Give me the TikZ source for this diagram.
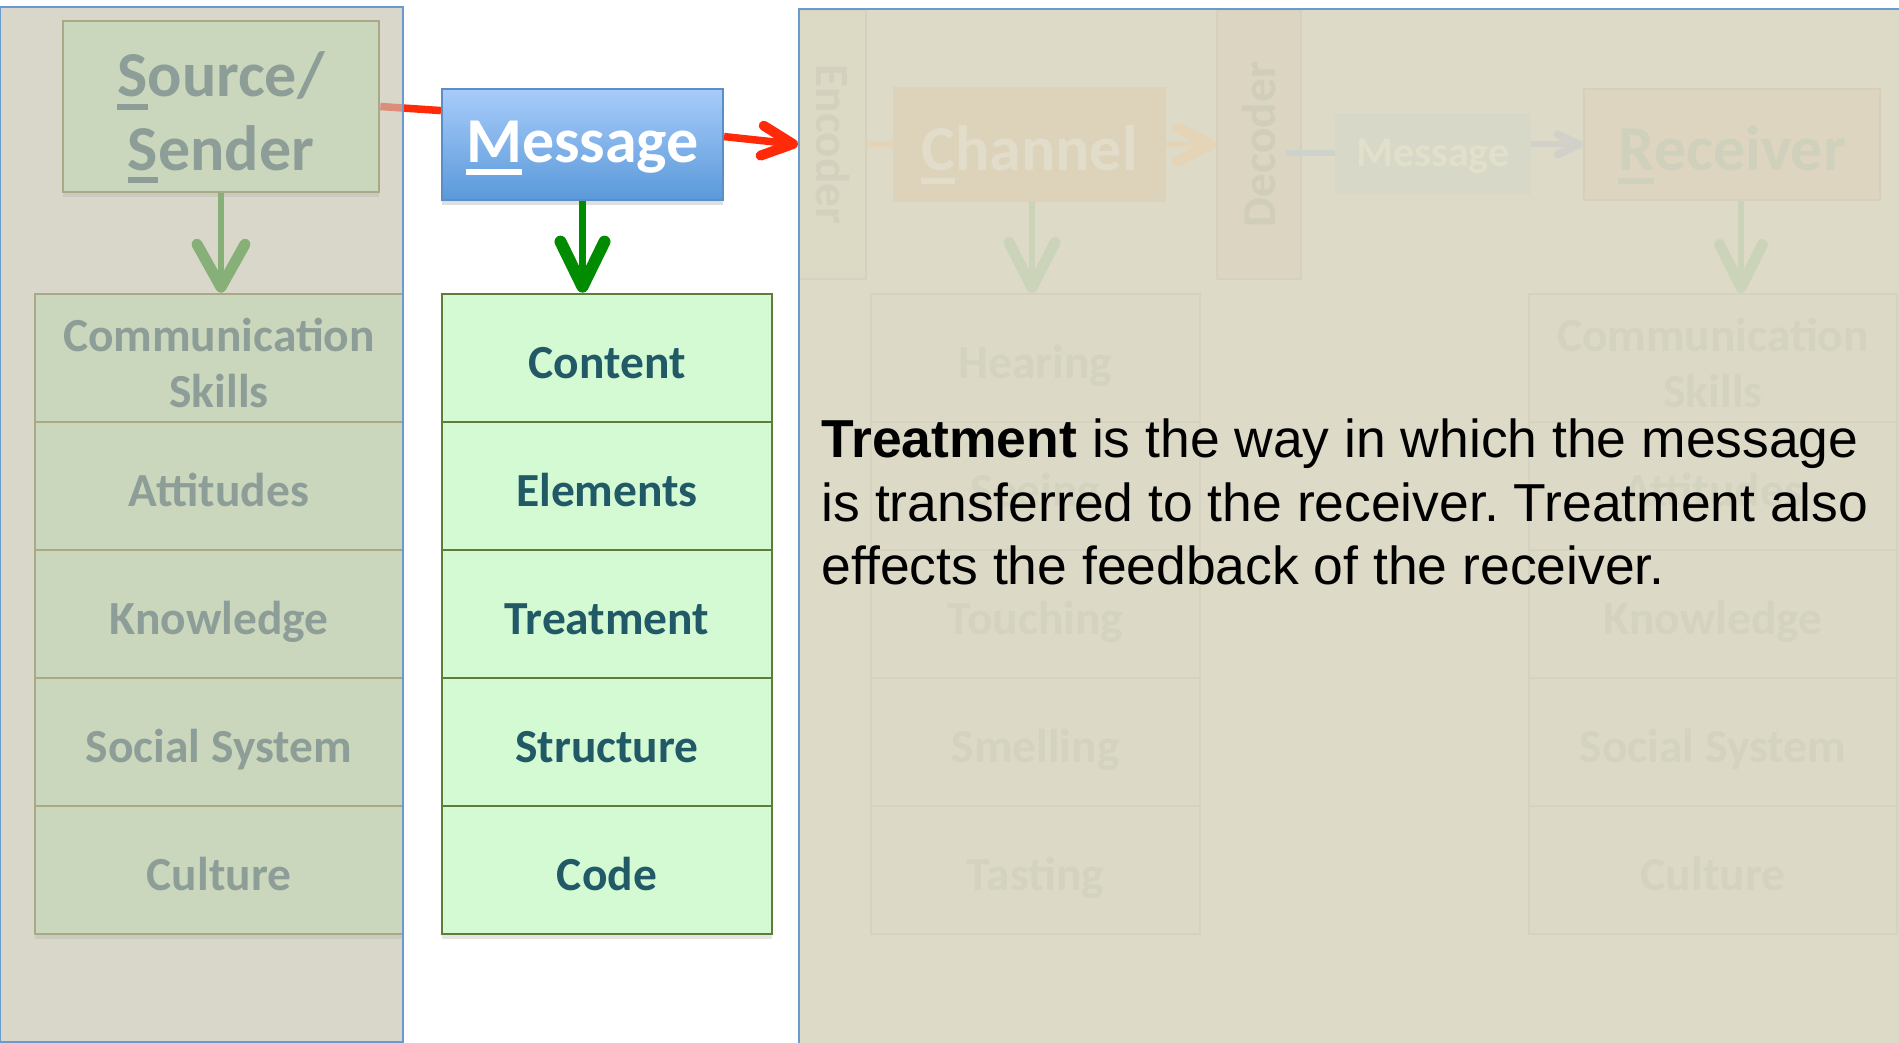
\documentclass[tikz,border=0pt]{standalone}
\usepackage{fontspec}
\usepackage{graphicx}
\setmainfont{Carlito}
\newfontfamily\arialf{Liberation Sans}
\usetikzlibrary{arrows.meta,shadows,calc}

\definecolor{lpanel}{HTML}{D9D7CA}
\definecolor{rpanel}{HTML}{DDDAC7}
\definecolor{pborder}{HTML}{6A9AD0}
\definecolor{srcfill}{HTML}{CBD7BC}
\definecolor{srcdraw}{HTML}{A8A987}
\definecolor{srctext}{HTML}{8D9E98}
\definecolor{srcarrow}{HTML}{87B079}
\definecolor{msgtop}{HTML}{A8CCFA}
\definecolor{msgbot}{HTML}{5A99D9}
\definecolor{msgdraw}{HTML}{5B8DC7}
\definecolor{gfill}{HTML}{D4FAD3}
\definecolor{gdraw}{HTML}{5F7D38}
\definecolor{gtext}{HTML}{215967}
\definecolor{garrow}{HTML}{008B00}
\definecolor{redarr}{HTML}{FF2A0A}
\definecolor{fadedred}{HTML}{DD8E7B}
\definecolor{encfill}{HTML}{DCD9C5}
\definecolor{encdraw}{HTML}{D4D1BE}
\definecolor{enctext}{HTML}{D3D1BE}
\definecolor{chanfill}{HTML}{DDD2BA}
\definecolor{chantext}{HTML}{E1DDCA}
\definecolor{decfill}{HTML}{DCD5C1}
\definecolor{dectext}{HTML}{D0CEBB}
\definecolor{smsgfill}{HTML}{D7D8C8}
\definecolor{smsgtext}{HTML}{E2DFCB}
\definecolor{recfill}{HTML}{DDD5BF}
\definecolor{recdraw}{HTML}{D5D0BB}
\definecolor{rectext}{HTML}{CFD1BC}
\definecolor{cellfill}{HTML}{DCDAC6}
\definecolor{celldraw}{HTML}{D5D3C0}
\definecolor{celltext}{HTML}{D3D3C0}
\definecolor{orline}{HTML}{E5D4B5}
\definecolor{blline}{HTML}{CDD2CC}
\definecolor{grarrow}{HTML}{D1D1C9}
\definecolor{gnfaint}{HTML}{CBD4B8}

\newcommand\firstul[1]{\setbox0\hbox{#1}\rlap{\smash{\rule[-0.2em]{\wd0}{0.085em}}}\box0}
\newcommand\topstrut{\rule{0pt}{0.92em}}

\tikzset{
  vtip/.style n args={3}{-{Straight Barb[length=#1,width=#2,line width=#3 0,round]}},
  bigfont/.style={font=\bfseries\fontsize{18.2}{20.8}\selectfont},
  cellfont/.style={font=\bfseries\fontsize{13.5}{15.9}\selectfont},
  oneline/.style={text height=13.9pt, text depth=2pt},
  lowtext/.style={text height=19pt, text depth=4pt},
  srcbox/.style={draw=srcdraw, fill=srcfill, line width=0.025cm, text=srctext, bigfont, align=center, inner sep=0pt,
     drop shadow={shadow xshift=0cm, shadow yshift=-0.05cm, opacity=0.15}},
  lcell/.style={draw=srcdraw, fill=srcfill, line width=0.025cm, text=srctext, cellfont, align=center, inner sep=0pt,
     minimum width=3.68cm, minimum height=1.28cm,
     drop shadow={shadow xshift=0cm, shadow yshift=-0.05cm, opacity=0.15}},
  gcell/.style={draw=gdraw, fill=gfill, line width=0.025cm, text=gtext, cellfont, align=center, inner sep=0pt, oneline,
     minimum width=3.30cm, minimum height=1.28cm,
     drop shadow={shadow xshift=0cm, shadow yshift=-0.05cm, opacity=0.2}},
  msgbox/.style={draw=msgdraw, top color=msgtop, bottom color=msgbot, line width=0.02cm, text=white, bigfont, inner sep=0pt,
     text height=13.96pt, text depth=4pt, minimum width=2.81cm, minimum height=1.11cm,
     drop shadow={shadow xshift=0cm, shadow yshift=-0.05cm, opacity=0.25}},
  fcell/.style={draw=celldraw, fill=cellfill, line width=0.02cm, text=celltext, cellfont, align=center, inner sep=0pt,
     minimum height=1.28cm},
}

\begin{document}
\begin{tikzpicture}[x=0.01cm,y=-0.01cm]
\useasboundingbox (0,0) rectangle (1899,1043);
\clip (0,0) rectangle (1899,1043);
\fill[white] (0,0) rectangle (1899,1043);

% ---------- left panel ----------
\fill[lpanel] (0,7) rectangle (403,1042);

\node[srcbox, minimum width=3.16cm, minimum height=1.71cm] (src) at (221,106.5) {\rule{0pt}{0.85em}\firstul{S}ource/\\\firstul{S}ender};

\node[lcell] (l1) at (219,358) {\topstrut Communication\\Skills};
\node[lcell, oneline] (l2) at (219,486) {Attitudes};
\node[lcell, oneline] (l3) at (219,614) {Knowledge};
\node[lcell, oneline] (l4) at (219,742) {Social System};
\node[lcell, oneline] (l5) at (219,870) {Culture};

\draw[srcarrow, line width=0.065cm, vtip={0.43cm}{0.48cm}{0.11cm}] (src.south) -- (src.south |- l1.north);

% ---------- message ----------
\node[msgbox] (msg) at (582.5,144.5) {\firstul{M}essage};

\node[gcell] (g1) at (607,358) {Content};
\node[gcell] (g2) at (607,486) {Elements};
\node[gcell] (g3) at (607,614) {Treatment};
\node[gcell] (g4) at (607,742) {Structure};
\node[gcell] (g5) at (607,870) {Code};

\draw[garrow, line width=0.07cm, vtip={0.45cm}{0.44cm}{0.12cm}] (msg.south) -- (msg.south |- g1.north);

% ---------- right panel ----------
\fill[rpanel] (799,9) rectangle (1920,1060);

\node[draw=encdraw, fill=encfill, line width=0.02cm, text=enctext, font=\bfseries\fontsize{13.5}{15.9}\selectfont,
      inner sep=0pt, minimum width=0.67cm, minimum height=2.69cm] (enc) at (832.5,144.5) {\rotatebox{-90}{Encoder}};
\node[draw=chanfill, fill=chanfill, text=chantext, bigfont, lowtext, inner sep=0pt,
      minimum width=2.71cm, minimum height=1.13cm] (chan) at (1029.5,144.5) {\firstul{C}hannel};
\node[draw=encdraw, fill=decfill, line width=0.02cm, text=dectext, font=\bfseries\fontsize{13.5}{15.9}\selectfont,
      inner sep=0pt, minimum width=0.84cm, minimum height=2.69cm] (dec) at (1259,144.5) {\rotatebox{90}{Decoder}};
\node[draw=smsgfill, fill=smsgfill, text=smsgtext, font=\bfseries\fontsize{12}{14}\selectfont, inner sep=0pt,
      text height=9.6pt, text depth=2pt, minimum width=1.94cm, minimum height=0.79cm] (smsg) at (1433,153.5) {Message};
\node[draw=recdraw, fill=recfill, line width=0.02cm, text=rectext, bigfont, lowtext, inner sep=0pt,
      minimum width=2.96cm, minimum height=1.11cm] (rec) at (1732,144.5) {\firstul{R}eceiver};

\node[fcell, oneline, minimum width=3.29cm] (c1) at (1035.5,358) {Hearing};
\node[fcell, oneline, minimum width=3.29cm] (c2) at (1035.5,486) {Seeing};
\node[fcell, oneline, minimum width=3.29cm] (c3) at (1035.5,614) {Touching};
\node[fcell, oneline, minimum width=3.29cm] (c4) at (1035.5,742) {Smelling};
\node[fcell, oneline, minimum width=3.29cm] (c5) at (1035.5,870) {Tasting};

\node[fcell, minimum width=3.68cm] (r1) at (1713,358) {\topstrut Communication\\Skills};
\node[fcell, oneline, minimum width=3.68cm] (r2) at (1713,486) {Attitudes};
\node[fcell, oneline, minimum width=3.68cm] (r3) at (1713,614) {Knowledge};
\node[fcell, oneline, minimum width=3.68cm] (r4) at (1713,742) {Social System};
\node[fcell, oneline, minimum width=3.68cm] (r5) at (1713,870) {Culture};

\draw[orline, line width=0.06cm] (enc.east) -- (chan.west);
\draw[orline, line width=0.06cm, vtip={0.34cm}{0.34cm}{0.1cm}] (chan.east) -- (dec.west);
\draw[blline, line width=0.06cm] ([xshift=-0.16cm]dec.east |- smsg.west) -- (smsg.west);
\draw[grarrow, line width=0.06cm, vtip={0.21cm}{0.2cm}{0.08cm}] (smsg.east |- rec.west) -- (rec.west);
\draw[gnfaint, line width=0.065cm, vtip={0.45cm}{0.46cm}{0.11cm}] ([xshift=0.025cm]chan.south) -- ([xshift=0.025cm]chan.south |- c1.north);
\draw[gnfaint, line width=0.065cm, vtip={0.43cm}{0.43cm}{0.11cm}] ([xshift=0.09cm]rec.south) -- ([xshift=0.09cm]rec.south |- r1.north);

% ---------- red connectors ----------
\begin{scope}
  \clip (0,0) rectangle (403,1043);
  \draw[fadedred, line width=0.075cm] (src.east) -- ($(msg.north west)!0.2!(msg.south west)$);
\end{scope}
\begin{scope}
  \clip (403,0) rectangle (1899,1043);
  \draw[redarr, line width=0.075cm] (src.east) -- ($(msg.north west)!0.2!(msg.south west)$);
\end{scope}
\draw[redarr, line width=0.075cm, vtip={0.31cm}{0.3cm}{0.1cm}] ($(msg.north east)!0.43!(msg.south east)$) -- (enc.west);

% ---------- panel borders ----------
\draw[pborder, line width=0.022cm] (0,1042) -- (0,7) -- (403,7) -- (403,1042) -- cycle;
\draw[pborder, line width=0.022cm] (799,1060) -- (799,9) -- (1920,9);

% ---------- explanation ----------
\node[anchor=base west, align=left, inner sep=0pt, font=\arialf\frenchspacing\fontsize{15.2}{18.07}\selectfont] (para) at (821,585)
  {\textbf{Treatment} is the way in which the message\\is transferred to the receiver. Treatment also\\effects the feedback of the receiver.};
\end{tikzpicture}
\end{document}
